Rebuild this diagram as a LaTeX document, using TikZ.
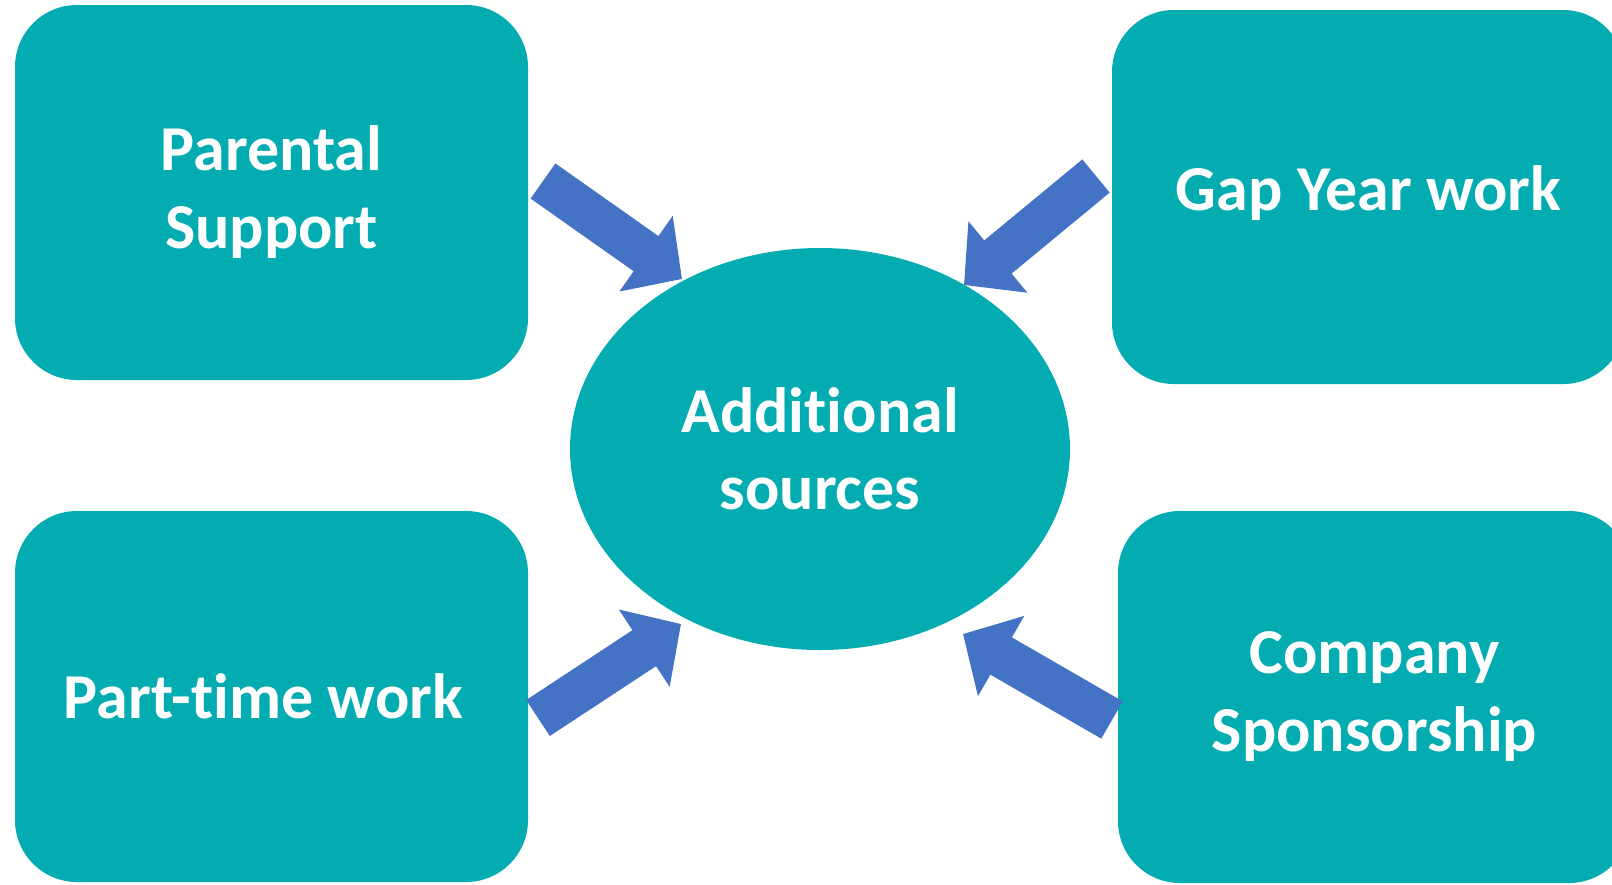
\documentclass[tikz,border=0pt]{standalone}
\usepackage{fontspec}
\setmainfont{Carlito}[Ligatures={NoCommon}]
\usetikzlibrary{shapes.geometric, arrows.meta, positioning}
\definecolor{tealbox}{RGB}{2,172,177}
\definecolor{arrowblue}{RGB}{68,114,196}

\begin{document}
\begin{tikzpicture}[
    x=1pt, y=-1pt,
    block/.style={rectangle, fill=tealbox, rounded corners=62pt, minimum width=513pt, text=white, font=\fontsize{64}{78}\selectfont\bfseries, align=center, inner sep=0pt},
    hub/.style={ellipse, fill=tealbox, minimum width=500pt, minimum height=402pt, text=white, font=\fontsize{64}{77}\selectfont\bfseries, align=center, inner sep=0pt},
    arrow/.style={draw=arrowblue, line width=43pt, -{Triangle[length=44pt, width=90pt]}}
]
    \useasboundingbox (0,0) rectangle (1612,884);

    % Nodes
    \node[block, minimum height=375pt] (parental) at (271.5,192.5) {Parental\\Support};
    \node[block, minimum height=374pt] (gapyear) at (1368.5,197) {\raisebox{18pt}{Gap Year work}};
    \node[block, minimum height=371pt] (parttime) at (271.5,696.5) {Part-time work\hspace{16pt}};
    \node[block, minimum height=372pt] (company) at (1374.5,697) {Company\\Sponsorship};
    \node[hub] (sources) at (820,449) {Additional\\sources};

    % Arrow ends
    \coordinate (parentalTail) at (543,181);
    \coordinate (parentalTip) at (682,279);
    \coordinate (gapyearTail) at (1096,176);
    \coordinate (gapyearTip) at (964,285);
    \coordinate (parttimeTail) at (538,718);
    \coordinate (parttimeTip) at (681,624);
    \coordinate (companyTail) at (1112,720);
    \coordinate (companyTip) at (963,634);

    % Arrows
    \draw[arrow] (parentalTail) -- (parentalTip);
    \draw[arrow] (gapyearTail) -- (gapyearTip);
    \draw[arrow] (parttimeTail) -- (parttimeTip);
    \draw[arrow] (companyTail) -- (companyTip);
\end{tikzpicture}
\end{document}
